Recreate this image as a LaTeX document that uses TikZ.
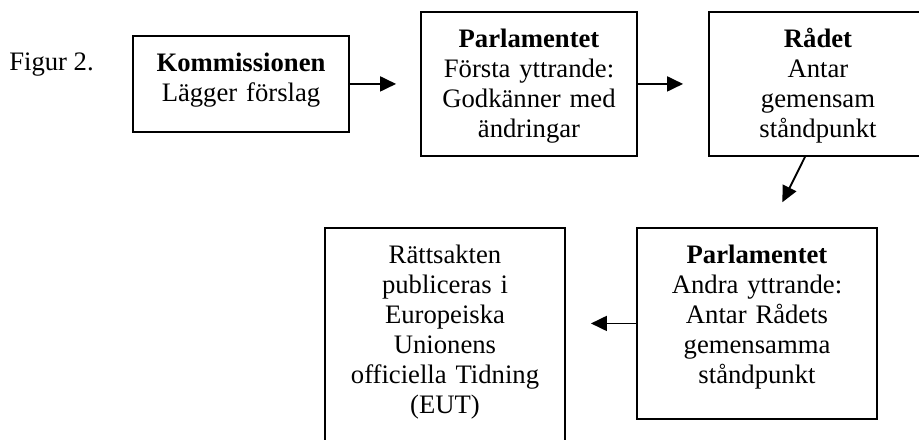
\documentclass[tikz,border=0pt]{standalone}
\usepackage{fontspec}
\setmainfont{Liberation Serif}
\usetikzlibrary{arrows.meta}
\begin{document}
\begin{tikzpicture}[x=0.75pt,y=-0.75pt,
  txt/.style={font=\fontsize{20}{22.5}\selectfont},
  box/.style={txt, draw, line width=1.4pt, anchor=north, inner sep=0pt, align=center, text height=27pt},
  arr/.style={line width=1.4pt, -{Triangle[length=12pt,width=11.25pt]}},
]
\useasboundingbox (0,0) rectangle (919,439);
\clip (0,0) rectangle (919,439);
\fill[white] (0,0) rectangle (919,439);
\node[txt, anchor=base west, inner sep=0pt] (fig) at (9,70) {Figur 2.};
\node[box, text width=162pt, text depth=45pt] (b1) at (241,35) {\textbf{Kommissionen}\\Lägger förslag};
\node[box, text width=162pt, text depth=81pt] (b2) at (529,11) {\textbf{Parlamentet}\\Första yttrande:\\Godkänner med\\ändringar};
\node[box, text width=163.5pt, text depth=81pt] (b3) at (818,11) {\textbf{Rådet}\\Antar\\gemensam\\ståndpunkt};
\node[box, text width=180pt, text depth=116.25pt] (b5) at (757,227) {\textbf{Parlamentet}\\Andra yttrande:\\Antar Rådets\\gemensamma\\ståndpunkt};
\node[box, text width=180pt, text depth=155pt] (b4) at (445,227) {Rättsakten\\publiceras i\\Europeiska\\Unionens\\officiella Tidning\\(EUT)};
\draw[arr, shorten >=18pt] (b1.east) -- (b2.west);
\draw[arr, shorten >=18.75pt] (b2.east) -- (b3.west);
\draw[arr, shorten >=20.8pt] ([xshift=-9.75pt]b3.south) -- ([xshift=9.75pt]b5.north);
\draw[arr, shorten >=18.75pt] (b5.west) -- (b5.west -| b4.east);
\end{tikzpicture}
\end{document}
